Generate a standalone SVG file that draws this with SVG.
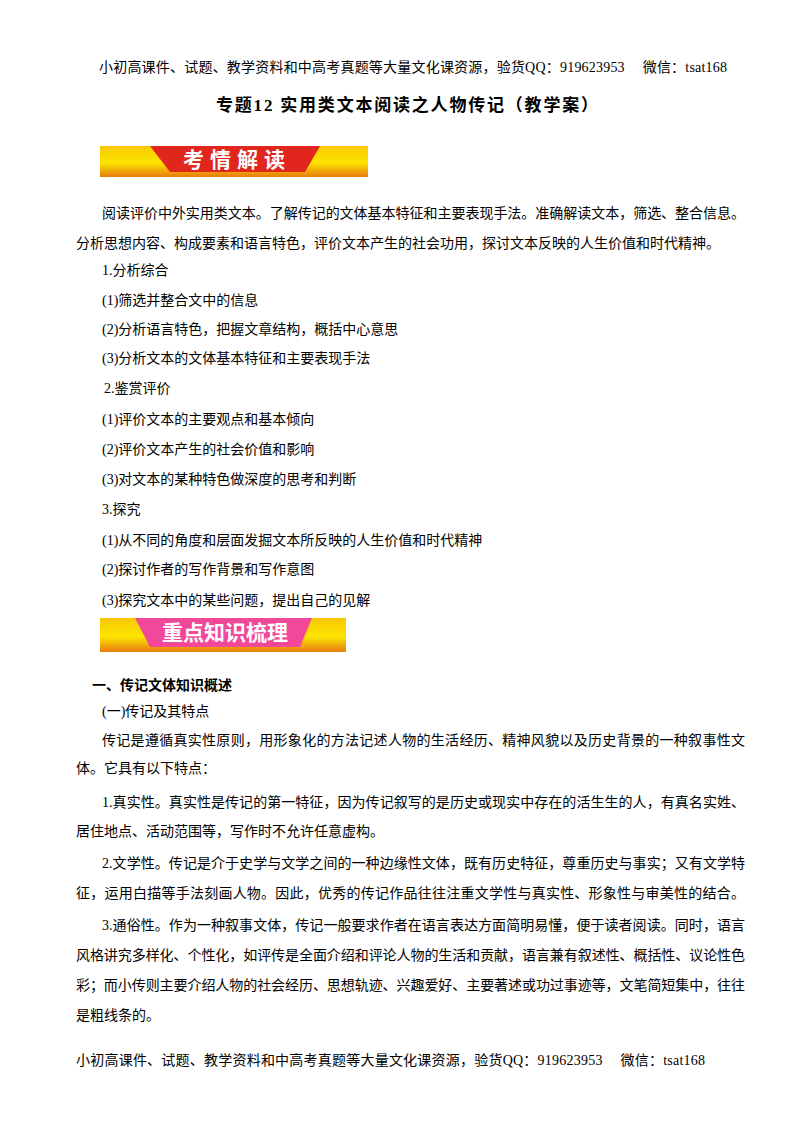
<svg xmlns="http://www.w3.org/2000/svg" width="800" height="1132" viewBox="0 0 800 1132">
<defs>
<style>
text{font-family:"Liberation Serif","Noto Sans CJK SC",serif;font-size:14px;fill:#000}
.b{font-weight:bold}
.t{font-size:17px;font-weight:bold}
.bn{font-family:"Noto Sans CJK SC",sans-serif;font-size:21px;font-weight:bold;fill:#fff}
</style>
<linearGradient id="gy" x1="0" y1="0" x2="0" y2="1"><stop offset="0" stop-color="#f8c800"/><stop offset="0.55" stop-color="#fbe500"/><stop offset="1" stop-color="#e87a10"/></linearGradient>
</defs>
<rect width="800" height="1132" fill="#fff"/>
<text x="99" y="72" textLength="628">小初高课件、试题、教学资料和中高考真题等大量文化课资源，验货QQ：919623953　 微信：tsat168</text>
<text x="216" y="111" class="t" textLength="382">专题12  实用类文本阅读之人物传记（教学案）</text>
<g id="banner1">
<rect x="100" y="146" width="268" height="31" fill="url(#gy)"/>
<path d="M150 146 H320 L305 172 H170 Z" fill="#e0261d"/>
<text x="237" y="167" class="bn" text-anchor="middle" letter-spacing="6">考情解读</text>
</g>
<text x="102" y="218" textLength="643">阅读评价中外实用类文本。了解传记的文体基本特征和主要表现手法。准确解读文本，筛选、整合信息。</text>
<text x="76" y="248">分析思想内容、构成要素和语言特色，评价文本产生的社会功用，探讨文本反映的人生价值和时代精神。</text>
<text x="102" y="275">1.分析综合</text>
<text x="102" y="305">(1)筛选并整合文中的信息</text>
<text x="102" y="334">(2)分析语言特色，把握文章结构，概括中心意思</text>
<text x="102" y="363">(3)分析文本的文体基本特征和主要表现手法</text>
<text x="104" y="393">2.鉴赏评价</text>
<text x="102" y="424">(1)评价文本的主要观点和基本倾向</text>
<text x="102" y="454">(2)评价文本产生的社会价值和影响</text>
<text x="102" y="484">(3)对文本的某种特色做深度的思考和判断</text>
<text x="102" y="514">3.探究</text>
<text x="102" y="545">(1)从不同的角度和层面发掘文本所反映的人生价值和时代精神</text>
<text x="102" y="574">(2)探讨作者的写作背景和写作意图</text>
<text x="102" y="605">(3)探究文本中的某些问题，提出自己的见解</text>
<g id="banner2">
<rect x="100" y="618" width="246" height="34" fill="url(#gy)"/>
<path d="M135 618 H312 L300 647 H150 Z" fill="#f2489a"/>
<text x="225" y="640" class="bn" text-anchor="middle">重点知识梳理</text>
</g>
<text x="92" y="690" class="b">一、传记文体知识概述</text>
<text x="102" y="716">(一)传记及其特点</text>
<text x="102" y="745" textLength="643">传记是遵循真实性原则，用形象化的方法记述人物的生活经历、精神风貌以及历史背景的一种叙事性文</text>
<text x="76" y="773">体。它具有以下特点：</text>
<text x="102" y="807" textLength="643">1.真实性。真实性是传记的第一特征，因为传记叙写的是历史或现实中存在的活生生的人，有真名实姓、</text>
<text x="76" y="836">居住地点、活动范围等，写作时不允许任意虚构。</text>
<text x="102" y="868" textLength="643">2.文学性。传记是介于史学与文学之间的一种边缘性文体，既有历史特征，尊重历史与事实；又有文学特</text>
<text x="76" y="898" textLength="669">征，运用白描等手法刻画人物。因此，优秀的传记作品往往注重文学性与真实性、形象性与审美性的结合。</text>
<text x="102" y="930" textLength="643">3.通俗性。作为一种叙事文体，传记一般要求作者在语言表达方面简明易懂，便于读者阅读。同时，语言</text>
<text x="76" y="960" textLength="669">风格讲究多样化、个性化，如评传是全面介绍和评论人物的生活和贡献，语言兼有叙述性、概括性、议论性色</text>
<text x="76" y="990" textLength="669">彩；而小传则主要介绍人物的社会经历、思想轨迹、兴趣爱好、主要著述或功过事迹等，文笔简短集中，往往</text>
<text x="76" y="1020">是粗线条的。</text>
<text x="76" y="1065" textLength="629">小初高课件、试题、教学资料和中高考真题等大量文化课资源，验货QQ：919623953　 微信：tsat168</text>
</svg>
